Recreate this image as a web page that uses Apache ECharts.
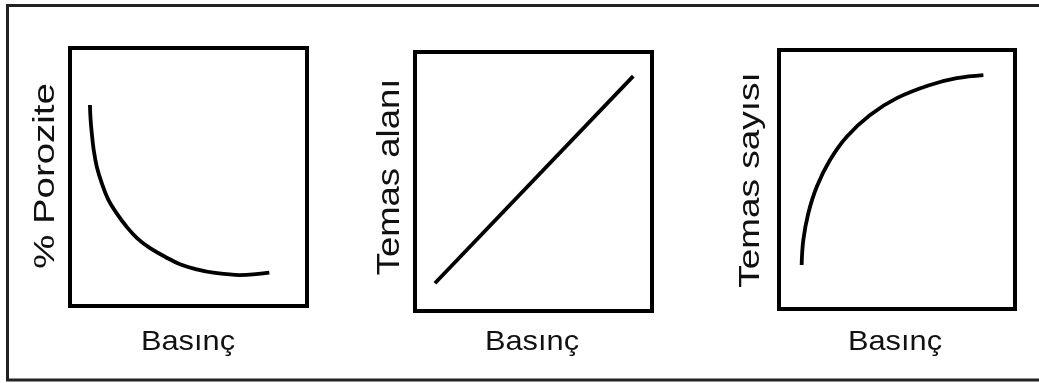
<!DOCTYPE html>
<html>
<head>
<meta charset="utf-8">
<script src="https://cdn.jsdelivr.net/npm/echarts@6/dist/echarts.min.js"></script>
<style>
  html, body { margin: 0; padding: 0; background: #fff; }
  #main { width: 1039px; height: 383px; }
</style>
</head>
<body>
<div id="main"></div>
<script>
// values, on a 0..100 scale inside each box
var porozite = [[8.4, 77.9], [8.7, 72.1], [9.2, 66.9], [10.0, 60.5], [11.3, 54.0],
    [13.4, 47.6], [16.2, 41.1], [19.7, 35.9], [23.9, 30.7], [28.4, 26.2], [33.8, 22.4],
    [40.1, 19.1], [46.4, 16.2], [53.5, 14.2], [60.5, 12.9], [71.7, 12.0], [84.1, 12.9]];
var temasAlani = [[8.4, 10.7], [92.1, 90.7]];
var temasSayisi = [[9.6, 17.0], [10.3, 26.6], [12.4, 36.9], [16.0, 47.2], [21.6, 57.5],
    [28.7, 66.5], [38.6, 74.9], [49.9, 81.4], [64.0, 86.5], [75.3, 89.1], [86.6, 90.3]];
var yNames = ['% Porozite', 'Temas alanı', 'Temas sayısı'];
var xName = 'Basınç';

var grids = [
    {left: 70, top: 48, width: 237, height: 258},
    {left: 415, top: 52, width: 237, height: 259},
    {left: 779, top: 50, width: 236, height: 259}
];

var hiddenAxis = function (i) {
    return {
        type: 'value', gridIndex: i, min: 0, max: 100,
        axisLine: {show: false}, axisTick: {show: false},
        axisLabel: {show: false}, splitLine: {show: false}
    };
};

var lineSeries = function (i, data, smooth) {
    return {
        type: 'line', xAxisIndex: i, yAxisIndex: i,
        data: data, smooth: smooth, symbol: 'none',
        lineStyle: {color: '#000', width: 3.8}
    };
};

var text = function (x, y, str, size, sx, rot) {
    return {
        type: 'text', x: x, y: y, rotation: rot, scaleX: sx,
        style: {
            text: str, fontFamily: 'Liberation Sans, Arial, sans-serif',
            fontSize: size, fill: '#111', align: 'center', verticalAlign: 'middle'
        }
    };
};

var option = {
    animation: false,
    backgroundColor: '#fff',
    grid: grids.map(function (g) {
        return Object.assign({show: true, borderColor: '#000', borderWidth: 4, backgroundColor: 'transparent'}, g);
    }),
    xAxis: [hiddenAxis(0), hiddenAxis(1), hiddenAxis(2)],
    yAxis: [hiddenAxis(0), hiddenAxis(1), hiddenAxis(2)],
    series: [
        lineSeries(0, porozite, 0.4),
        lineSeries(1, temasAlani, false),
        lineSeries(2, temasSayisi, 0.4)
    ],
    graphic: [
        {
            type: 'rect', shape: {x: 7.5, y: 5.5, width: 1040, height: 374.5},
            style: {fill: 'none', stroke: '#222', lineWidth: 3}
        },
        text(46, 176, yNames[0], 30, 1.28, Math.PI / 2),
        text(390, 177, yNames[1], 32, 1.14, Math.PI / 2),
        text(751, 180, yNames[2], 30, 1.23, Math.PI / 2),
        text(188, 342, xName, 28, 1.1, 0),
        text(532, 342, xName, 28, 1.1, 0),
        text(895, 342, xName, 28, 1.1, 0)
    ]
};

var myChart = echarts.init(document.getElementById('main'));
myChart.setOption(option);
</script>
</body>
</html>
